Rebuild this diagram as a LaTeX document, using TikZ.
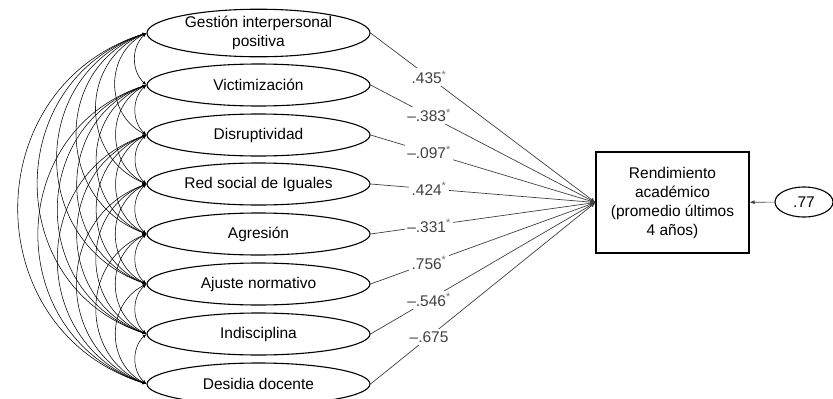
\documentclass[tikz,border=0pt]{standalone}
\usepackage{fontspec}
\setmainfont{Liberation Sans}
\usepackage{tikz}
\usetikzlibrary{shapes.geometric,arrows.meta,positioning,calc}

\newcommand{\signif}{\textsuperscript{\color{black!55}*}}

\begin{document}
\begin{tikzpicture}[x=1pt, y=-1pt,
    every node/.style={font=\fontsize{15.5}{19}\selectfont},
    latent/.style={ellipse, draw, line width=1.1pt, minimum width=223pt, minimum height=42pt, inner sep=0pt, align=center},
    observed/.style={rectangle, draw, line width=1.1pt, minimum width=153pt, minimum height=101pt, align=center},
    coef/.style={fill=white, inner sep=2.5pt},
    regr/.style={-{Latex[length=5pt,width=4pt]}, line width=0.7pt, black!75},
    cov/.style={{Latex[length=4pt,width=3pt]}-{Latex[length=4pt,width=3pt]}, line width=0.55pt}]
  \useasboundingbox (0,0) rectangle (833,399);
  \def\ellx{258.5}

  \node[latent, minimum height=44pt] (v1) at (\ellx, 33) {Gestión interpersonal\\positiva};
  \node[latent] (v2) at (\ellx, 85) {Victimización};
  \node[latent] (v3) at (\ellx, 135) {Disruptividad};
  \node[latent] (v4) at (\ellx, 184) {Red social de Iguales};
  \node[latent] (v5) at (\ellx, 234) {Agresión};
  \node[latent] (v6) at (\ellx, 284) {Ajuste normativo};
  \node[latent] (v7) at (\ellx, 334) {Indisciplina};
  \node[latent] (v8) at (\ellx, 384) {Desidia docente};

  \node[observed] (rend) at (672.5, 202.5) {Rendimiento\\académico\\(promedio últimos\\4 años)};
  \node[ellipse, draw, line width=1.1pt, minimum width=58pt, minimum height=30pt, inner sep=0pt] (err) at (804, 202) {.77};
  \draw[regr] (err) -- (rend);

  % paths to the outcome
  \foreach \i/\lab in {1/.435\signif, 2/\textendash.383\signif, 3/\textendash.097\signif, 4/.424\signif,
                       5/\textendash.331\signif, 6/.756\signif, 7/\textendash.546\signif, 8/\textendash.675}{
    \draw[regr] (v\i.east) -- (rend.west) node[coef, pos=0.26] (l\i) {\lab};
  }

  % covariances
  \foreach \i in {1,...,7}{
    \pgfmathtruncatemacro{\inext}{\i+1}
    \foreach \j in {\inext,...,8}{
      \pgfmathsetmacro{\rr}{0.39-0.17/(\j-\i)}
      \pgfmathsetmacro{\bang}{2*atan(2*\rr)}
      \pgfmathsetmacro{\loos}{(1+4*\rr*\rr)/1.1745}
      \draw[cov] (v\i.west) to[bend right=\bang, looseness=\loos] (v\j.west);
    }
  }
\end{tikzpicture}
\end{document}
